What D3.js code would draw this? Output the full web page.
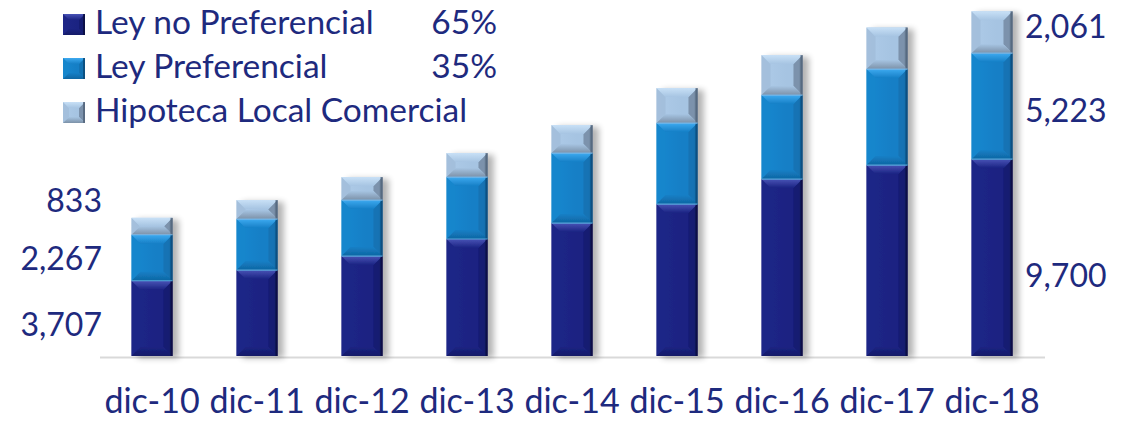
<!DOCTYPE html>
<html>
<head>
<meta charset="utf-8">
<script src="https://cdn.jsdelivr.net/npm/d3@7"></script>
<style>
  html, body { margin: 0; padding: 0; background: #ffffff; }
  svg { display: block; }
  text { font-family: Lato, "Noto Sans", sans-serif; fill: #1e2a7e; }
</style>
</head>
<body>
<svg id="chart" width="1127" height="421"></svg>
<script>
// ---- data ----
const categories = ["dic-10", "dic-11", "dic-12", "dic-13", "dic-14", "dic-15", "dic-16", "dic-17", "dic-18"];
const leyNoPreferencial = [3707, 4236, 4926, 5764, 6552, 7488, 8719, 9409, 9700];
const leyPreferencial   = [2267, 2512, 2759, 3054, 3448, 3990, 4138, 4729, 5223];
const hipotecaLocal     = [833, 936, 1133, 1182, 1379, 1724, 1970, 2050, 2061];
const seriesNames = ["Ley no Preferencial", "Ley Preferencial", "Hipoteca Local Comercial"];
const seriesShares = ["65%", "35%", ""];
const leftLabels = ["833", "2,267", "3,707"];
const rightLabels = ["2,061", "5,223", "9,700"];

// ---- styles ----
const palettes = [
  { face: ["#1f2789", "#1b2382", "#0a0e40"], top: "#4853b6", left: "#1e2687", right: "#141b6c", bottom: "#151b68" },
  { face: ["#1788d0", "#157fc6", "#0a4a78"], top: "#3eaaf0", left: "#1786cc", right: "#136fae", bottom: "#0f66a2" },
  { face: ["#aecbe8", "#a6c4e2", "#52647a"], top: "#c8e0f6", left: "#9fbbd7", right: "#6e8299", bottom: "#7c91a8" }
];

const svg = d3.select("#chart");
const W = 1127, H = 421;
svg.append("rect").attr("width", W).attr("height", H).attr("fill", "#fff");

const defs = svg.append("defs");
const f = defs.append("filter").attr("id", "shadow").attr("x", "-20%").attr("y", "-10%").attr("width", "160%").attr("height", "130%");
f.append("feGaussianBlur").attr("in", "SourceAlpha").attr("stdDeviation", 3).attr("result", "b");
f.append("feOffset").attr("in", "b").attr("dx", 6).attr("dy", 2).attr("result", "o");
f.append("feComponentTransfer").attr("in", "o").attr("result", "s")
  .append("feFuncA").attr("type", "linear").attr("slope", 0.3);
const m = f.append("feMerge");
m.append("feMergeNode").attr("in", "s");
m.append("feMergeNode").attr("in", "SourceGraphic");

palettes.forEach((p, i) => {
  const g = defs.append("linearGradient").attr("id", "face" + i).attr("x1", 0).attr("x2", 1).attr("y1", 0).attr("y2", 0);
  g.append("stop").attr("offset", "0%").attr("stop-color", p.face[0]);
  g.append("stop").attr("offset", "60%").attr("stop-color", p.face[1]);
  g.append("stop").attr("offset", "90%").attr("stop-color", p.face[1]);
  g.append("stop").attr("offset", "100%").attr("stop-color", p.face[2]);
  const t = defs.append("linearGradient").attr("id", "top" + i).attr("x1", 0).attr("x2", 0).attr("y1", 0).attr("y2", 1);
  t.append("stop").attr("offset", "0%").attr("stop-color", p.top);
  t.append("stop").attr("offset", "100%").attr("stop-color", p.face[1]);
  const b = defs.append("linearGradient").attr("id", "bot" + i).attr("x1", 0).attr("x2", 0).attr("y1", 0).attr("y2", 1);
  b.append("stop").attr("offset", "0%").attr("stop-color", p.face[1]);
  b.append("stop").attr("offset", "100%").attr("stop-color", p.bottom);
});

// ---- scales ----
const x = d3.scaleBand().domain(categories).range([99.5, 1044.5]).paddingInner(0.61).paddingOuter(0.305);
const y = d3.scaleLinear().domain([0, 17000]).range([356, 11]);

// stacked data
const rows = categories.map((c, i) => ({ cat: c, a: leyNoPreferencial[i], b: leyPreferencial[i], c: hipotecaLocal[i] }));
const stack = d3.stack().keys(["a", "b", "c"])(rows);

function bevel(g, x0, y0, w, h, i, dmax) {
  const d = Math.min(dmax, h / 2, w / 2);
  const x1 = x0 + w, y1 = y0 + h;
  const P = pts => pts.map(p => p.join(",")).join(" ");
  g.append("rect").attr("x", x0).attr("y", y0).attr("width", w).attr("height", h).attr("fill", `url(#face${i})`);
  g.append("polygon").attr("points", P([[x0, y0], [x0 + d, y0 + d], [x0 + d, y1 - d], [x0, y1]])).attr("fill", palettes[i].left).attr("opacity", 0.7);
  g.append("polygon").attr("points", P([[x1, y0], [x1 - d, y0 + d], [x1 - d, y1 - d], [x1, y1]])).attr("fill", palettes[i].right).attr("opacity", 0.75);
  g.append("polygon").attr("points", P([[x0, y0], [x1, y0], [x1 - d, y0 + d], [x0 + d, y0 + d]])).attr("fill", `url(#top${i})`);
  g.append("polygon").attr("points", P([[x0, y1], [x1, y1], [x1 - d, y1 - d], [x0 + d, y1 - d]])).attr("fill", `url(#bot${i})`);
  // dark right rim
  g.append("rect").attr("x", x1 - 2).attr("y", y0).attr("width", 2).attr("height", h).attr("fill", palettes[i].face[2]).attr("opacity", 0.8);
}

// baseline
svg.append("line").attr("x1", 100).attr("x2", 1045).attr("y1", y(0) + 1.5).attr("y2", y(0) + 1.5)
  .attr("stroke", "#d9d9d9").attr("stroke-width", 2);

const barsG = svg.append("g");
categories.forEach((c, j) => {
  const g = barsG.append("g").attr("filter", "url(#shadow)");
  stack.forEach((s, i) => {
    const d = s[j];
    const top = y(d[1]), bot = y(d[0]);
    bevel(g, x(c), top, x.bandwidth(), bot - top, i, 9);
    if (i > 0) {
      g.append("line").attr("x1", x(c)).attr("x2", x(c) + x.bandwidth()).attr("y1", bot).attr("y2", bot)
        .attr("stroke", i === 1 ? "#5aaee0" : "#7ab8e8").attr("stroke-width", 1.2).attr("opacity", 0.9);
    }
  });
});

// category labels
svg.append("g").selectAll("text").data(categories).join("text")
  .attr("x", d => x(d) + x.bandwidth() / 2).attr("y", 413)
  .attr("text-anchor", "middle").attr("font-size", 34).text(d => d);

// left value labels (dic-10)
const leftY = [212, 270, 336];
svg.append("g").selectAll("text").data(leftLabels).join("text")
  .attr("x", 102).attr("y", (d, i) => leftY[i]).attr("text-anchor", "end").attr("font-size", 32).text(d => d);

// right value labels (dic-18)
const rightY = [38, 122, 287];
svg.append("g").selectAll("text").data(rightLabels).join("text")
  .attr("x", 1025).attr("y", (d, i) => rightY[i]).attr("text-anchor", "start").attr("font-size", 32).text(d => d);

// legend
const legend = svg.append("g");
const legY = [14, 58, 102];
seriesNames.forEach((n, i) => {
  const g = legend.append("g");
  bevel(g, 63, legY[i], 22, 21, i, 6);
  g.append("text").attr("x", 95).attr("y", legY[i] + 20).attr("font-size", 33.5).text(n);
  if (seriesShares[i]) g.append("text").attr("x", 497).attr("y", legY[i] + 20).attr("text-anchor", "end").attr("font-size", 33.5).text(seriesShares[i]);
});
</script>
</body>
</html>
